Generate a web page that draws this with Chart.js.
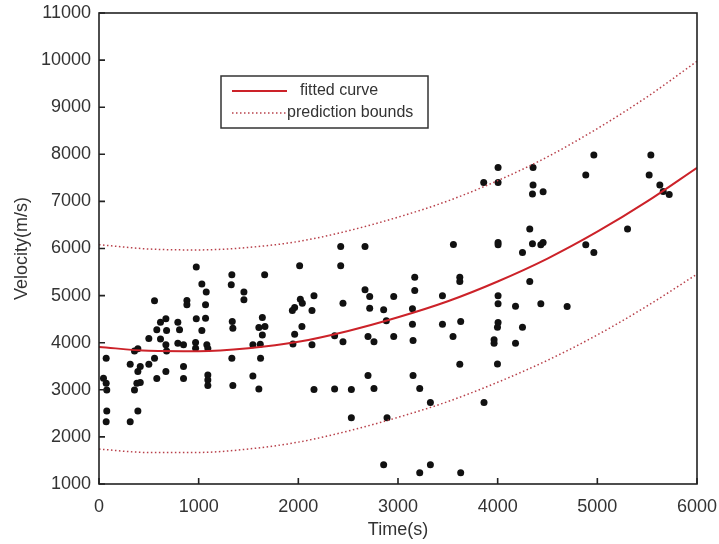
<!DOCTYPE html>
<html>
<head>
<meta charset="utf-8">
<script src="https://cdn.jsdelivr.net/npm/chart.js@4.4.0/dist/chart.umd.min.js"></script>
<style>
  html, body { margin: 0; padding: 0; background: #fff; }
  #wrap { width: 719px; height: 544px; }
</style>
</head>
<body>
<div id="wrap"><canvas id="chart-velocity" width="719" height="544"></canvas></div>
<script>
// measured samples (time in s, velocity in m/s)
const sampleTime = [
  45, 72, 78, 72, 78, 72, 313, 313, 356, 390, 390, 414, 356, 380, 414, 390,
  500, 500, 557, 557, 580, 617, 617, 580, 671, 678, 671, 678, 671, 791, 808, 791,
  848, 848, 848, 882, 882, 976, 1032, 976, 1032, 1076, 1069, 1069, 969, 969, 1082, 1092,
  1092, 1092, 1092, 1333, 1327, 1337, 1343, 1333, 1343, 1454, 1454, 1544, 1544, 1604, 1618, 1621,
  1604, 1639, 1665, 1639, 1662,
  2013, 2425, 2425, 2669, 3556, 3168, 3168, 3620, 3620, 2020, 2040, 1963, 1940, 2137, 2157, 2448,
  2669, 2716, 2957, 2716, 2856, 3145, 3446, 2036, 1963, 2364, 2883, 3145, 3446, 3629, 2699, 2957, 3552,
  2137, 1946, 2448, 2759, 3151, 3620, 2699, 3151, 2157, 2364, 2532, 2759, 3218, 3325, 2532, 2890,
  2856, 3218, 3325, 3629,
  4004, 4355, 3860, 4004, 4355, 4349, 4456, 4965, 4884, 5537, 5520, 5627, 5661, 5721, 4322, 4004,
  4004, 4349, 4433, 4456, 4249, 4884, 4965, 5303, 4322, 4004, 4004, 4179, 4433, 4697, 4004, 3998,
  4249, 3964, 3964, 4179, 3998, 3863
];
const sampleVelocity = [
  3246, 3140, 2998, 3671, 2551, 2324, 2324, 3544, 3826, 3869, 3386, 3493, 2998, 3140, 3153, 2551,
  4088, 3544, 3671, 4889, 4273, 4436, 4081, 3238, 4506, 4258, 3954, 3826, 3386, 4436, 4273, 3990,
  3954, 3493, 3238, 4895, 4804, 5605, 5244, 4506, 4258, 5074, 4804, 4521, 4003, 3884, 3954, 3875,
  3316, 3210, 3089, 5441, 5229, 4449, 4309, 3671, 3089, 5074, 4910, 3954, 3295, 3019, 3969, 3671,
  4321, 4534, 4343, 4166, 5441,
  5633, 6043, 5633, 6043, 6085, 5392, 5108, 5392, 5299, 4925, 4840, 4746, 4683, 4683, 4995, 4840,
  5123, 4980, 4980, 4734, 4698, 4719, 4995, 4343, 4181, 4145, 4464, 4394, 4394, 4449, 4130, 4130, 4130,
  3954, 3975, 4018, 4018, 4045, 3544, 3301, 3301, 3004, 3019, 3004, 3025, 3025, 2728, 2409, 2409,
  1410, 1240, 1410, 1240,
  7721, 7721, 7403, 7403, 7347, 7156, 7205, 7985, 7560, 7985, 7560, 7347, 7211, 7148, 6412, 6128,
  6079, 6100, 6079, 6128, 5915, 6079, 5915, 6412, 5299, 4995, 4825, 4776, 4825, 4768, 4428, 4330,
  4330, 4060, 3990, 3990, 3550, 2728
];

// fitted curve and prediction bounds, read at every 500 s
const curveTime = [0, 500, 1000, 1500, 2000, 2500, 3000, 3500, 4000, 4500, 5000, 5500, 6000];
const fittedCurve = [3911, 3829, 3820, 3883, 4019, 4250, 4540, 4880, 5300, 5786, 6356, 7000, 7715];
const upperBound = [6081, 5989, 5970, 6023, 6149, 6375, 6665, 7010, 7440, 7946, 8546, 9220, 9975];
const lowerBound = [1741, 1669, 1670, 1743, 1889, 2125, 2415, 2750, 3160, 3626, 4166, 4780, 5455];

const xTicks = [0, 1000, 2000, 3000, 4000, 5000, 6000];
const yTicks = [1000, 2000, 3000, 4000, 5000, 6000, 7000, 8000, 9000, 10000, 11000];

const legendLabels = ["fitted curve", "prediction bounds"];

const FONT = "Arial, 'Liberation Sans', Helvetica, sans-serif";
const TEXT_COLOR = "#333333";
const FIT_COLOR = "#cc2229";
const BOUND_COLOR = "#b8404a";
const BOUND_DASH = [1.5, 2.5];

const toPoints = (xs, ys) => xs.map((x, i) => ({ x, y: ys[i] }));

// box around the axes + inward ticks (matlab look)
const framePlugin = {
  id: "frame",
  afterDraw(chart) {
    const { ctx, chartArea: a, scales } = chart;
    ctx.save();
    ctx.strokeStyle = "#222";
    ctx.lineWidth = 1.6;
    ctx.strokeRect(a.left, a.top, a.right - a.left, a.bottom - a.top);
    ctx.beginPath();
    xTicks.forEach(v => {
      const px = scales.x.getPixelForValue(v);
      ctx.moveTo(px, a.bottom);
      ctx.lineTo(px, a.bottom - 6);
    });
    yTicks.forEach(v => {
      const py = scales.y.getPixelForValue(v);
      ctx.moveTo(a.left, py);
      ctx.lineTo(a.left + 6, py);
    });
    ctx.stroke();
    ctx.restore();
  }
};

// legend box inside the plot
const legendPlugin = {
  id: "insideLegend",
  afterDraw(chart) {
    const ctx = chart.ctx;
    ctx.save();
    ctx.fillStyle = "#fff";
    ctx.fillRect(221, 76, 207, 52);
    ctx.strokeStyle = "#333";
    ctx.lineWidth = 1.5;
    ctx.strokeRect(221, 76, 207, 52);

    ctx.strokeStyle = FIT_COLOR;
    ctx.lineWidth = 2;
    ctx.beginPath();
    ctx.moveTo(232, 91);
    ctx.lineTo(287, 91);
    ctx.stroke();

    ctx.strokeStyle = BOUND_COLOR;
    ctx.lineWidth = 1.5;
    ctx.setLineDash(BOUND_DASH);
    ctx.beginPath();
    ctx.moveTo(232, 113);
    ctx.lineTo(287, 113);
    ctx.stroke();
    ctx.setLineDash([]);

    ctx.fillStyle = TEXT_COLOR;
    ctx.font = "16px " + FONT;
    ctx.textBaseline = "middle";
    ctx.fillText(legendLabels[0], 300, 91);
    ctx.fillText(legendLabels[1], 287, 113);
    ctx.restore();
  }
};

const ctx = document.getElementById("chart-velocity").getContext("2d");

new Chart(ctx, {
  type: "scatter",
  data: {
    datasets: [
      {
        label: legendLabels[0],
        type: "line",
        data: toPoints(curveTime, fittedCurve),
        borderColor: FIT_COLOR,
        borderWidth: 2,
        pointRadius: 0,
        fill: false,
        cubicInterpolationMode: "monotone"
      },
      {
        label: legendLabels[1],
        type: "line",
        data: toPoints(curveTime, upperBound),
        borderColor: BOUND_COLOR,
        borderWidth: 1.5,
        borderDash: BOUND_DASH,
        pointRadius: 0,
        fill: false,
        cubicInterpolationMode: "monotone"
      },
      {
        label: "lower bound",
        type: "line",
        data: toPoints(curveTime, lowerBound),
        borderColor: BOUND_COLOR,
        borderWidth: 1.5,
        borderDash: BOUND_DASH,
        pointRadius: 0,
        fill: false,
        cubicInterpolationMode: "monotone"
      },
      {
        label: "data",
        data: toPoints(sampleTime, sampleVelocity),
        backgroundColor: "#111",
        borderWidth: 0,
        pointRadius: 3.5
      }
    ]
  },
  options: {
    responsive: false,
    animation: false,
    layout: { padding: { top: 13, right: 22, left: 0, bottom: 0 } },
    plugins: {
      legend: { display: false },
      tooltip: { enabled: false }
    },
    scales: {
      x: {
        type: "linear",
        min: 0,
        max: 6000,
        afterFit: s => {
          s.height = 60;
          s.paddingLeft = 0;
          s.paddingRight = 0;
        },
        afterBuildTicks: s => { s.ticks = xTicks.map(v => ({ value: v })); },
        grid: { display: false, drawTicks: false },
        border: { display: false },
        ticks: {
          color: TEXT_COLOR,
          font: { family: FONT, size: 18 },
          padding: 12,
          maxRotation: 0,
          callback: v => v
        },
        title: {
          display: true,
          text: "Time(s)",
          color: TEXT_COLOR,
          font: { family: FONT, size: 18 },
          padding: { top: 0, bottom: 3 }
        }
      },
      y: {
        type: "linear",
        min: 1000,
        max: 11000,
        afterFit: s => {
          s.width = 99;
          s.paddingTop = 0;
          s.paddingBottom = 0;
        },
        afterBuildTicks: s => { s.ticks = yTicks.map(v => ({ value: v })); },
        grid: { display: false, drawTicks: false },
        border: { display: false },
        ticks: {
          color: TEXT_COLOR,
          font: { family: FONT, size: 18 },
          padding: 8,
          callback: v => v
        },
        title: {
          display: true,
          text: "Velocity(m/s)",
          color: TEXT_COLOR,
          font: { family: FONT, size: 18 },
          padding: { top: 11, bottom: 0 }
        }
      }
    }
  },
  plugins: [framePlugin, legendPlugin]
});
</script>
</body>
</html>
